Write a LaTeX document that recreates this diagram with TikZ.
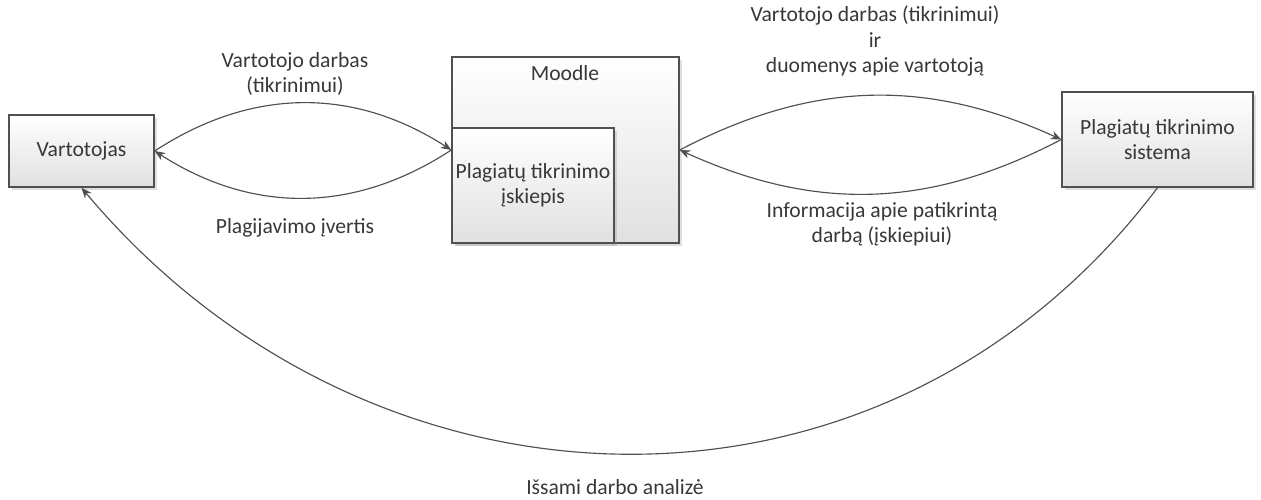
\documentclass[tikz,border=0pt]{standalone}
\usepackage{fontspec}
\setmainfont{Carlito}
\usepackage{tikz}
\usetikzlibrary{arrows.meta, shadows}
\definecolor{lnclr}{HTML}{505050}
\definecolor{txtclr}{HTML}{383838}
\tikzset{
  sysbox/.style={draw=lnclr,line width=0.8pt,top color=white,bottom color=black!12,inner sep=2pt,align=center,text=txtclr,font=\fontsize{12.3}{14.4}\selectfont,drop shadow={shadow xshift=1.6pt,shadow yshift=-1.6pt,opacity=0.25}},
  flowedge/.style={-{Stealth[length=2.1mm,width=1.7mm]},line width=0.65pt,lnclr},
  flowlbl/.style={align=center,text=txtclr,font=\fontsize{12.3}{14.4}\selectfont},
}

\begin{document}
\begin{tikzpicture}
  \useasboundingbox (0,0) rectangle (25.22,-9.98);
  \node[sysbox,minimum width=2.90cm,minimum height=1.44cm] (nUser) at (1.63,-3.02) {Vartotojas};
  \node[sysbox,minimum width=4.54cm,minimum height=3.72cm] (nMoodle) at (11.31,-3.00) {};
  \node[flowlbl] (tMoodle) at (11.30,-1.46) {Moodle};
  \node[sysbox,minimum width=3.24cm,minimum height=2.30cm] (nPlugin) at (10.66,-3.71) {Plagiatų tikrinimo\\įskiepis};
  \node[sysbox,minimum width=3.82cm,minimum height=1.90cm] (nSys) at (23.15,-2.79) {Plagiatų tikrinimo\\sistema};
  \draw[flowedge] (nUser.east) to[bend left=33] (nMoodle.west);
  \draw[flowedge] (nMoodle.west) to[bend left=33] (nUser.east);
  \draw[flowedge] (nMoodle.east) to[bend left=26] (nSys.west);
  \draw[flowedge] (nSys.west) to[bend left=26] (nMoodle.east);
  \draw[flowedge] (nSys.south) to[out=233,in=-50,looseness=1.08] (nUser.south);
  \node[flowlbl] (lSubmit) at (5.90,-1.48) {Vartotojo darbas\\(tikrinimui)};
  \node[flowlbl] (lScore) at (5.90,-4.56) {Plagijavimo įvertis};
  \node[flowlbl] (lSend) at (17.50,-0.82) {Vartotojo darbas (tikrinimui)\\ir\\duomenys apie vartotoją};
  \node[flowlbl] (lInfo) at (17.64,-4.49) {Informacija apie patikrintą\\darbą (įskiepiui)};
  \node[flowlbl] (lReport) at (12.30,-9.74) {Išsami darbo analizė};
\end{tikzpicture}
\end{document}
